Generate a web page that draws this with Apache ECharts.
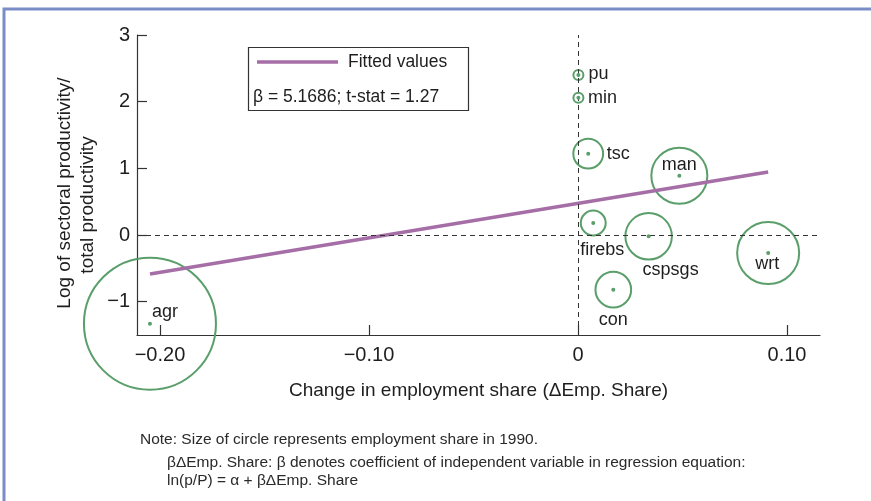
<!DOCTYPE html>
<html>
<head>
<meta charset="utf-8">
<script src="https://cdn.jsdelivr.net/npm/echarts@6/dist/echarts.min.js"></script>
<style>
  html, body { margin: 0; padding: 0; background: #fff; }
  #chart { width: 871px; height: 501px; }
</style>
</head>
<body>
<div id="chart"></div>
<script>
// sectors, change in employment share, log relative productivity, employment share 1990 (%)
var sectors = ['agr', 'min', 'man', 'pu', 'con', 'wrt', 'tsc', 'firebs', 'cspsgs'];
var empShareChange = [-0.2048, 0.0002, 0.0485, 0.0002, 0.0169, 0.0910, 0.0049, 0.0073, 0.0338];
var logRelProd = [-1.33, 2.06, 0.89, 2.40, -0.82, -0.27, 1.22, 0.18, -0.02];
var empShare1990 = [58.9, 0.34, 10.6, 0.34, 4.3, 13.0, 3.0, 2.1, 7.3];

// fitted regression line, read at its two ends
var fittedX = [-0.2048, 0.0910];
var fittedY = [-0.585, 0.944];

var xTicks = [-0.2, -0.1, 0, 0.1];
var yTicks = [-1, 0, 1, 2, 3];

var GREEN = '#5a9e6a';
var PURPLE = '#a66ea6';
var INK = '#1e1e1e';
var FONT = 'Liberation Sans';

// label offsets from the centre dot (px)
var labelOffset = {
    agr: [15, -12], min: [24, 0], man: [0, -11], pu: [20, -1], con: [0, 30],
    wrt: [-1, 11], tsc: [30, 0], firebs: [9, 27], cspsgs: [22, 34]
};

var circleData = [];
var dotData = [];
for (var i = 0; i < sectors.length; i++) {
    circleData.push([empShareChange[i], logRelProd[i], empShare1990[i]]);
    dotData.push({
        name: sectors[i],
        value: [empShareChange[i], logRelProd[i]],
        label: { offset: labelOffset[sectors[i]] }
    });
}
var fitData = [];
for (var j = 0; j < fittedX.length; j++) fitData.push([fittedX[j], fittedY[j]]);

function minus(s) { return String(s).replace('-', '\u2212'); }

var chart = echarts.init(document.getElementById('chart'), null, { renderer: 'canvas' });
chart.setOption({
    animation: false,
    backgroundColor: '#fff',
    textStyle: { fontFamily: FONT },
    grid: { left: 137, top: 35, width: 683, height: 300, containLabel: false },
    xAxis: {
        type: 'value',
        min: -0.211,
        max: 0.1158,
        name: 'Change in employment share (\u0394Emp. Share)',
        nameLocation: 'middle',
        nameGap: 46,
        nameTextStyle: { fontSize: 19, color: INK, fontFamily: FONT },
        axisLine: { show: true, onZero: false, lineStyle: { color: '#333', width: 1.2 } },
        axisTick: { show: true, inside: true, length: 10, customValues: xTicks, lineStyle: { color: '#333', width: 1.2 } },
        axisLabel: {
            customValues: xTicks, fontSize: 20, color: INK, margin: 10,
            formatter: function (v) { return v === 0 ? '0' : minus(v.toFixed(2)); }
        },
        splitLine: { show: false }
    },
    yAxis: {
        type: 'value',
        min: -1.5,
        max: 3,
        axisLine: { show: true, onZero: false, lineStyle: { color: '#333', width: 1.2 } },
        axisTick: { show: true, inside: true, length: 10, customValues: yTicks, lineStyle: { color: '#333', width: 1.2 } },
        axisLabel: {
            customValues: yTicks, fontSize: 20, color: INK, margin: 7,
            formatter: function (v) { return minus(v); }
        },
        splitLine: { show: false }
    },
    series: [
        {
            type: 'scatter',
            data: circleData,
            clip: false,
            symbolSize: function (v) { return 17.2 * Math.sqrt(v[2]); },
            itemStyle: { color: 'rgba(0,0,0,0)', borderColor: GREEN, borderWidth: 2, opacity: 1 },
            z: 3,
            markLine: {
                silent: true,
                symbol: 'none',
                label: { show: false },
                lineStyle: { color: '#333', type: [5, 4], width: 1 },
                data: [{ xAxis: 0 }, { yAxis: 0 }]
            }
        },
        {
            type: 'line',
            data: fitData,
            symbol: 'none',
            lineStyle: { color: PURPLE, width: 3.5 },
            z: 4
        },
        {
            type: 'scatter',
            data: dotData,
            symbolSize: 4,
            itemStyle: { color: GREEN, opacity: 1 },
            label: {
                show: true,
                position: 'inside',
                formatter: '{b}',
                fontSize: 18,
                color: INK,
                opacity: 1,
                textBorderWidth: 0,
                textBorderColor: 'transparent',
                fontFamily: FONT
            },
            z: 5
        }
    ],
    graphic: [
        { type: 'polyline', shape: { points: [[4, 501], [4, 9], [871, 9]] },
          style: { stroke: '#7a8dc6', lineWidth: 3, fill: null } },
        { type: 'rect', shape: { x: 248.5, y: 47.5, width: 220, height: 63 },
          style: { stroke: '#333', lineWidth: 1.2, fill: '#fff' }, z: 10 },
        { type: 'line', shape: { x1: 257, y1: 62, x2: 338, y2: 62 },
          style: { stroke: PURPLE, lineWidth: 3.5 }, z: 11 },
        { type: 'text', x: 348, y: 62, z: 11,
          style: { text: 'Fitted values', fontSize: 17.5, fontFamily: FONT, fill: INK, textVerticalAlign: 'middle' } },
        { type: 'text', x: 253, y: 97, z: 11,
          style: { text: '\u03b2 = 5.1686; t-stat = 1.27', fontSize: 17.5, fontFamily: FONT, fill: INK, textVerticalAlign: 'middle' } },
        { type: 'text', x: 65, y: 193, rotation: Math.PI / 2,
          style: { text: 'Log of sectoral productivity/', fontSize: 19, fontFamily: FONT, fill: INK, textAlign: 'center', textVerticalAlign: 'middle' } },
        { type: 'text', x: 88, y: 205, rotation: Math.PI / 2,
          style: { text: 'total productivity', fontSize: 19, fontFamily: FONT, fill: INK, textAlign: 'center', textVerticalAlign: 'middle' } },
        { type: 'text', x: 140, y: 440,
          style: { text: 'Note: Size of circle represents employment share in 1990.', fontSize: 15.5, fontFamily: FONT, fill: '#2a2a2a', textVerticalAlign: 'middle' } },
        { type: 'text', x: 167, y: 463,
          style: { text: '\u03b2\u0394Emp. Share: \u03b2 denotes coefficient of independent variable in regression equation:', fontSize: 15.5, fontFamily: FONT, fill: '#2a2a2a', textVerticalAlign: 'middle' } },
        { type: 'text', x: 167, y: 481,
          style: { text: 'ln(p/P) = \u03b1 + \u03b2\u0394Emp. Share', fontSize: 15.5, fontFamily: FONT, fill: '#2a2a2a', textVerticalAlign: 'middle' } }
    ]
});
</script>
</body>
</html>
